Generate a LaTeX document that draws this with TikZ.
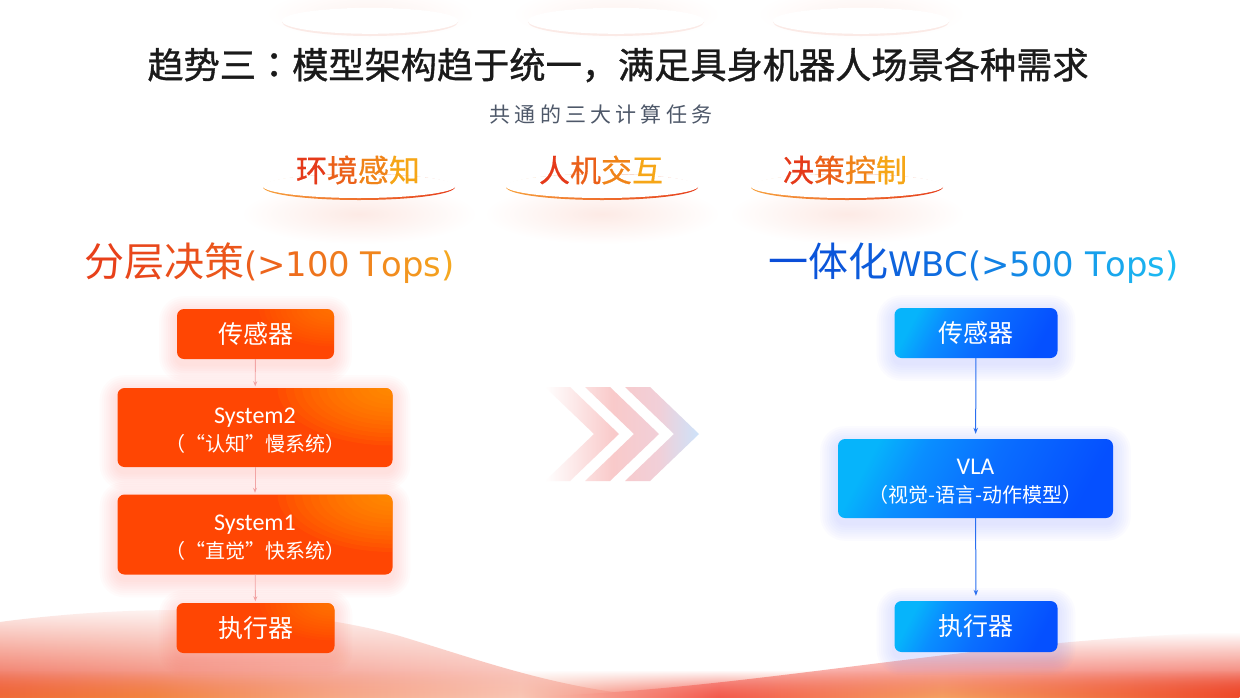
\documentclass[tikz,border=0pt]{standalone}
\usepackage{fontspec}
\setmainfont{Noto Sans CJK SC}
\newfontfamily\cjk{Noto Sans CJK SC}
\newfontfamily\cjkb[FakeBold=1.0]{Noto Sans CJK SC}
\newfontfamily\cjkm[FakeBold=0.6]{Noto Sans CJK SC}
\newfontfamily\cjktc[FakeBold=1.0]{Noto Sans CJK TC}
\newfontfamily\dejavu{DejaVu Sans}
\newfontfamily\carl{Carlito}
\usetikzlibrary{arrows.meta,fadings,backgrounds,calc}

\definecolor{obase}{HTML}{FF4603}
\definecolor{ohigh}{HTML}{FFAC00}
\definecolor{bstart}{HTML}{06B4FB}
\definecolor{bmidA}{HTML}{0A8EFF}
\definecolor{bmid}{HTML}{0A6EFF}
\definecolor{bend}{HTML}{0550FF}
\definecolor{oglow}{HTML}{FF6A55}
\definecolor{bglow}{HTML}{6F78FF}
\definecolor{lA}{HTML}{E8401A}
\definecolor{lB}{HTML}{F5A820}
\definecolor{bA}{HTML}{0A4ED8}
\definecolor{bB}{HTML}{1CBBF2}
\definecolor{tA}{HTML}{E53A1A}
\definecolor{tB}{HTML}{F6A617}
\definecolor{titlec}{HTML}{1A1A1A}
\definecolor{subc}{HTML}{4E5869}
\definecolor{larc}{HTML}{F2A5A5}
\definecolor{rarc}{HTML}{2A6FF0}
\definecolor{chevpink}{HTML}{F9CACA}
\definecolor{chevmid}{HTML}{F1CFD8}
\definecolor{chevblue}{HTML}{CDE3FA}
\definecolor{discglow}{HTML}{FDEAE5}
\definecolor{topcres}{HTML}{FBEAE6}
\definecolor{crescL}{HTML}{F7A03C}
\definecolor{crescR}{HTML}{E63E1C}
\definecolor{band0}{HTML}{F06A38}
\definecolor{band1}{HTML}{F3843F}
\definecolor{band2}{HTML}{F7AA8A}
\definecolor{band3}{HTML}{F9C6B4}
\definecolor{band4}{HTML}{F35A4C}
\definecolor{band5}{HTML}{F5A060}
\definecolor{band6}{HTML}{EE4A2A}
\definecolor{swA1}{HTML}{EE5A40}
\definecolor{swA2}{HTML}{F9C8C0}
\definecolor{swB1}{HTML}{FA9A9A}
\definecolor{swB2}{HTML}{F24C44}
\definecolor{swB3}{HTML}{EE4530}

\tikzfading[name=fadeup, top color=transparent!100, middle color=transparent!85, bottom color=transparent!0]
\tikzfading[name=fadeupB, top color=transparent!100, middle color=transparent!60, bottom color=transparent!0]

\pgfdeclarehorizontalshading{chev}{100bp}{color(0bp)=(white); color(25bp)=(white); color(47bp)=(chevpink); color(62bp)=(chevmid); color(75bp)=(chevblue); color(100bp)=(chevblue)}
\pgfdeclarehorizontalshading{band}{100bp}{color(0bp)=(band0); color(25bp)=(band0); color(31bp)=(band1); color(39bp)=(band2); color(46bp)=(band3); color(54bp)=(band4); color(63bp)=(band5); color(75bp)=(band6); color(100bp)=(band6)}
\pgfdeclareverticalshading{bgrad}{100bp}{color(0bp)=(bend); color(25bp)=(bend); color(48bp)=(bmid); color(64bp)=(bmidA); color(75bp)=(bstart); color(100bp)=(bstart)}

\newcommand\lc[2]{\textcolor{lB!#1!lA}{#2}}
\newcommand\bc[2]{\textcolor{bB!#1!bA}{#2}}
\newcommand\tc[2]{\textcolor{tB!#1!tA}{#2}}
\newcommand\ls{\hspace{4.2pt}}

\newcommand\boxglow[2]{%
  \begin{scope}[on background layer]
    \foreach \k in {1,...,8}{%
      \pgfmathsetmacro\rr{7+2.2*\k}
      \fill[#2, opacity=0.022, rounded corners=\rr pt] ($(#1.north west)+({-2.2*\k},{5-2.2*\k})$) rectangle ($(#1.south east)+({2.2*\k},{5+2.2*\k})$);
    }
  \end{scope}}

\newcommand\taskdisc[1]{% #1 cx
  \shade[inner color=discglow, outer color=white] (#1,214) ellipse [x radius=118, y radius=30];
  \shade[left color=crescL, right color=crescR] (#1,187) ellipse [x radius=96, y radius=13];
  \fill[white] (#1,186) ellipse [x radius=96.4, y radius=12];
}
\newcommand\topdisc[1]{%
  \shade[inner color=discglow!60, outer color=white] (#1,14) ellipse [x radius=105, y radius=26];
  \fill[topcres] (#1,22) ellipse [x radius=88, y radius=14];
  \fill[white] (#1,20.8) ellipse [x radius=88.4, y radius=13];
}

\begin{document}
\begin{tikzpicture}[x=1pt,y=-1pt,
  obox/.style 2 args={rounded corners=7pt, fill=obase, text=white, inner sep=0pt, align=center,
    path picture={\foreach \k in {1,...,14}{\fill[ohigh, opacity=#2] (path picture bounding box.north east) ellipse [x radius=\k*#1/14, y radius=\k*#1/28];}}},
  bbox/.style={rounded corners=7pt, shade, shading=bgrad, shading angle=62, text=white, inner sep=0pt, align=center},
  cjkone/.style={font=\cjk\fontsize{25}{25}\selectfont},
  twoline/.style={font=\carl\fontsize{24}{28}\selectfont, text height=52pt, text depth=4.5pt},
  larrow/.style={draw=larc, line width=0.9pt, -{Stealth[length=5pt,width=4pt]}, shorten >=1.5pt},
  rarrow/.style={draw=rarc, line width=1pt, -{Stealth[length=6pt,width=4.5pt]}, shorten >=5pt},
  tasklabel/.style={font=\cjkm\fontsize{31}{31}\selectfont, inner sep=0pt}
]
\useasboundingbox (0,0) rectangle (1240,697);

% ---------- background ----------
\begin{scope}[on background layer]
  \fill[white] (0,0) rectangle (1240,697);
  \shade[path fading=fadeupB, left color=swA1, right color=swA2]
    (0,622) .. controls (120,606) and (280,602) .. (400,636) .. controls (480,660) and (560,690) .. (660,697) -- (0,697) -- cycle;
  \shade[path fading=fadeupB, left color=swB1, middle color=swB2, right color=swB3]
    (520,697) .. controls (760,690) and (960,640) .. (1240,632) -- (1240,697) -- cycle;
  \shade[path fading=fadeup, shading=band] (0,670) rectangle (1240,697);
\end{scope}

% faint top discs
\topdisc{370}
\topdisc{616}
\topdisc{861}

% title
\node[font=\cjkb\fontsize{36.2}{36.2}\selectfont, text=titlec, inner sep=0pt] (title) at (618,65)
  {趋势三{\cjktc ：}模型架构趋于统一，满足具身机器人场景各种需求};
\node[font=\cjk\fontsize{21}{21}\selectfont, text=subc, inner sep=0pt] (subtitle) at (601,114)
  {共\ls 通\ls 的\ls 三\ls 大\ls 计\ls 算\ls 任\ls 务};

% task discs and labels
\taskdisc{359}
\taskdisc{602}
\taskdisc{847}
\node[tasklabel] (task1) at (358,170) {\tc{0}{环}\tc{35}{境}\tc{68}{感}\tc{100}{知}};
\node[tasklabel] (task2) at (601,170) {\tc{0}{人}\tc{35}{机}\tc{68}{交}\tc{100}{互}};
\node[tasklabel] (task3) at (845,170) {\tc{0}{决}\tc{35}{策}\tc{68}{控}\tc{100}{制}};

% headings
\node[anchor=base west, inner sep=0pt] (lhead) at (84,276)
  {\fontsize{40}{40}\selectfont\lc{0}{分}\lc{7}{层}\lc{14}{决}\lc{21}{策}\dejavu\fontsize{33.8}{40}\selectfont\lc{29}{(}\lc{36}{>}\lc{43}{1}\lc{50}{0}\lc{57}{0} \lc{66}{T}\lc{74}{o}\lc{83}{p}\lc{91}{s}\lc{100}{)}};
\node[anchor=base west, inner sep=0pt] (rhead) at (768,276)
  {\fontsize{40}{40}\selectfont\bc{0}{一}\bc{6}{体}\bc{12}{化}\dejavu\fontsize{33.8}{40}\selectfont\bc{20}{W}\bc{27}{B}\bc{33}{C}\bc{40}{(}\bc{47}{>}\bc{53}{5}\bc{60}{0}\bc{66}{0} \bc{75}{T}\bc{82}{o}\bc{90}{p}\bc{95}{s}\bc{100}{)}};

% chevrons
\shade[shading=chev]
  (545,387) -- (570,387) -- (619,434) -- (570,481) -- (545,481) -- (594,434) -- cycle
  (585,387) -- (610,387) -- (659,434) -- (610,481) -- (585,481) -- (634,434) -- cycle
  (625,387) -- (650,387) -- (699,434) -- (650,481) -- (625,481) -- (674,434) -- cycle;

% left column
\node[obox={75}{0.045}, cjkone, minimum width=157pt, minimum height=50pt] (ls) at (255.5,334) {传感器};
\node[obox={115}{0.08}, twoline, minimum width=275pt, minimum height=79pt] (sys2) at (255,427.5)
  {System2\\{\cjk\fontsize{20}{28}\selectfont （“认知”慢系统）}};
\node[obox={115}{0.08}, twoline, minimum width=275pt, minimum height=80pt] (sys1) at (255,534.5)
  {System1\\{\cjk\fontsize{20}{28}\selectfont （“直觉”快系统）}};
\node[obox={75}{0.045}, cjkone, minimum width=158pt, minimum height=50pt] (la) at (255.5,628) {执行器};

% right column
\node[bbox, cjkone, minimum width=163pt, minimum height=50pt] (rs) at (976,333) {传感器};
\node[bbox, twoline, minimum width=275pt, minimum height=79pt] (vla) at (975.5,478.5)
  {VLA\\{\cjk\fontsize{20}{28}\selectfont （视觉-语言-动作模型）}};
\node[bbox, cjkone, minimum width=163pt, minimum height=51pt] (ra) at (976,626.5) {执行器};

% glows
\boxglow{ls}{oglow}
\boxglow{sys2}{oglow}
\boxglow{sys1}{oglow}
\boxglow{la}{oglow}
\boxglow{rs}{bglow}
\boxglow{vla}{bglow}
\boxglow{ra}{bglow}

% connectors
\draw[larrow] (ls) -- (sys2);
\draw[larrow] (sys2) -- (sys1);
\draw[larrow] (sys1) -- (la);
\draw[rarrow] (rs) -- (vla);
\draw[rarrow] (vla) -- (ra);
\end{tikzpicture}
\end{document}
